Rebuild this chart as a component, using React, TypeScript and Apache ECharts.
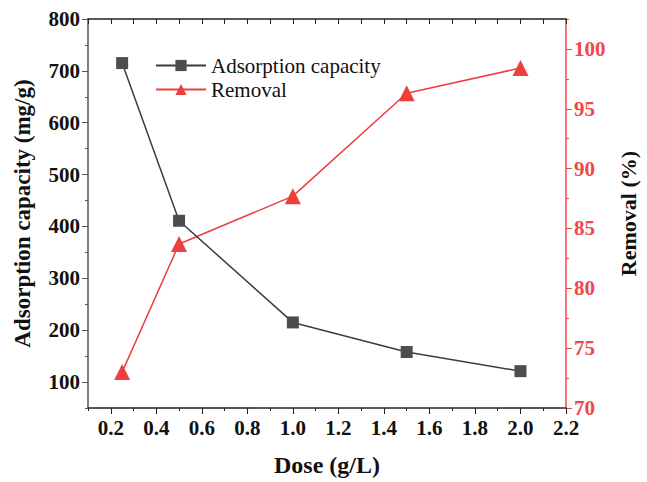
import React, { useEffect, useRef } from "react";
import * as echarts from "echarts";

const doses = [0.25, 0.5, 1.0, 1.5, 2.0];
const capacity = [715, 411, 215, 158, 121];
const removal = [73.0, 83.7, 87.7, 96.3, 98.4];
const xMajor = [0.2, 0.4, 0.6, 0.8, 1.0, 1.2, 1.4, 1.6, 1.8, 2.0, 2.2];
const yLeftMajor = [100, 200, 300, 400, 500, 600, 700, 800];
const yRightMajor = [70, 75, 80, 85, 90, 95, 100];

const FONT = "Liberation Serif";
const RED = "#f04848";
const BLACK = "#222";

export default function App() {
  const ref = useRef<HTMLDivElement>(null);
  useEffect(() => {
    if (!ref.current) return;
    const chart = echarts.init(ref.current, undefined, { renderer: "svg" });
    const hidden = { show: false };
    chart.setOption({
      animation: false,
      backgroundColor: "#fff",
      textStyle: { fontFamily: FONT },
      grid: { left: 88, right: 73, top: 19, bottom: 73, containLabel: false },
      legend: {
        orient: "vertical",
        left: 150,
        top: 50,
        itemWidth: 50,
        itemHeight: 14,
        itemGap: 3,
        textStyle: { fontFamily: FONT, fontSize: 21, color: "#111" },
        data: ["Adsorption capacity", "Removal"],
      },
      xAxis: [
        {
          type: "value",
          position: "bottom",
          min: 0.1,
          max: 2.2,
          interval: 0.1,
          name: "Dose (g/L)",
          nameLocation: "middle",
          nameGap: 45,
          nameTextStyle: { fontFamily: FONT, fontSize: 24, fontWeight: "bold", color: "#111" },
          axisLine: { show: true, lineStyle: { color: BLACK, width: 1.5 } },
          axisTick: { show: true, inside: false, length: 6, customValues: xMajor, lineStyle: { color: BLACK } },
          axisLabel: {
            customValues: xMajor,
            formatter: (v: number) => v.toFixed(1),
            fontFamily: FONT,
            fontSize: 21,
            fontWeight: "bold",
            color: "#111",
            margin: 9,
          },
          splitLine: hidden,
        },
        {
          type: "value",
          position: "bottom",
          min: 0.1,
          max: 2.2,
          interval: 0.1,
          axisLine: hidden,
          axisTick: { show: true, inside: false, length: 3, lineStyle: { color: BLACK } },
          axisLabel: hidden,
          splitLine: hidden,
        },
        {
          type: "value",
          position: "top",
          min: 0.1,
          max: 2.2,
          interval: 0.1,
          axisLine: { show: true, lineStyle: { color: BLACK, width: 1.5 } },
          axisTick: { show: true, inside: true, length: 5, lineStyle: { color: BLACK } },
          axisLabel: hidden,
          splitLine: hidden,
        },
      ],
      yAxis: [
        {
          type: "value",
          position: "left",
          min: 50,
          max: 800,
          interval: 50,
          name: "Adsorption capacity (mg/g)",
          nameLocation: "middle",
          nameRotate: 90,
          nameGap: 54,
          nameTextStyle: { fontFamily: FONT, fontSize: 23, fontWeight: "bold", color: "#111" },
          axisLine: { show: true, lineStyle: { color: "#555", width: 1.5 } },
          axisTick: { show: true, inside: false, length: 6, customValues: yLeftMajor, lineStyle: { color: "#555" } },
          axisLabel: {
            customValues: yLeftMajor,
            fontFamily: FONT,
            fontSize: 21,
            fontWeight: "bold",
            color: "#111",
            margin: 8,
          },
          splitLine: hidden,
        },
        {
          type: "value",
          position: "right",
          min: 70,
          max: 102.5,
          interval: 2.5,
          name: "Removal (%)",
          nameLocation: "middle",
          nameRotate: 90,
          nameGap: 51,
          nameTextStyle: { fontFamily: FONT, fontSize: 22, fontWeight: "bold", color: "#111" },
          axisLine: { show: true, lineStyle: { color: RED, width: 1.5 } },
          axisTick: { show: true, inside: false, length: 6, customValues: yRightMajor, lineStyle: { color: RED } },
          axisLabel: {
            customValues: yRightMajor,
            fontFamily: FONT,
            fontSize: 21,
            fontWeight: "bold",
            color: RED,
            margin: 8,
          },
          splitLine: hidden,
        },
        {
          type: "value",
          position: "left",
          min: 50,
          max: 800,
          interval: 50,
          axisLine: hidden,
          axisTick: { show: true, inside: false, length: 3, lineStyle: { color: "#555" } },
          axisLabel: hidden,
          splitLine: hidden,
        },
        {
          type: "value",
          position: "right",
          min: 70,
          max: 102.5,
          interval: 2.5,
          axisLine: hidden,
          axisTick: { show: true, inside: false, length: 3, lineStyle: { color: RED } },
          axisLabel: hidden,
          splitLine: hidden,
        },
      ],
      series: [
        {
          name: "Adsorption capacity",
          type: "line",
          xAxisIndex: 0,
          yAxisIndex: 0,
          data: doses.map((d, i) => [d, capacity[i]]),
          symbol: "rect",
          symbolSize: 12,
          itemStyle: { color: "#4d4d4d" },
          lineStyle: { color: "#3c3c3c", width: 1.5 },
          z: 3,
        },
        {
          name: "Removal",
          type: "line",
          xAxisIndex: 0,
          yAxisIndex: 1,
          data: doses.map((d, i) => [d, removal[i]]),
          symbol: "triangle",
          symbolSize: 16,
          itemStyle: { color: "#ee3e3e" },
          lineStyle: { color: "#ee3e3e", width: 1.5 },
          z: 2,
        },
      ],
    });
    return () => chart.dispose();
  }, []);
  return <div ref={ref} style={{ width: 647, height: 482, position: "absolute", left: 0, top: 0 }} />;
}
